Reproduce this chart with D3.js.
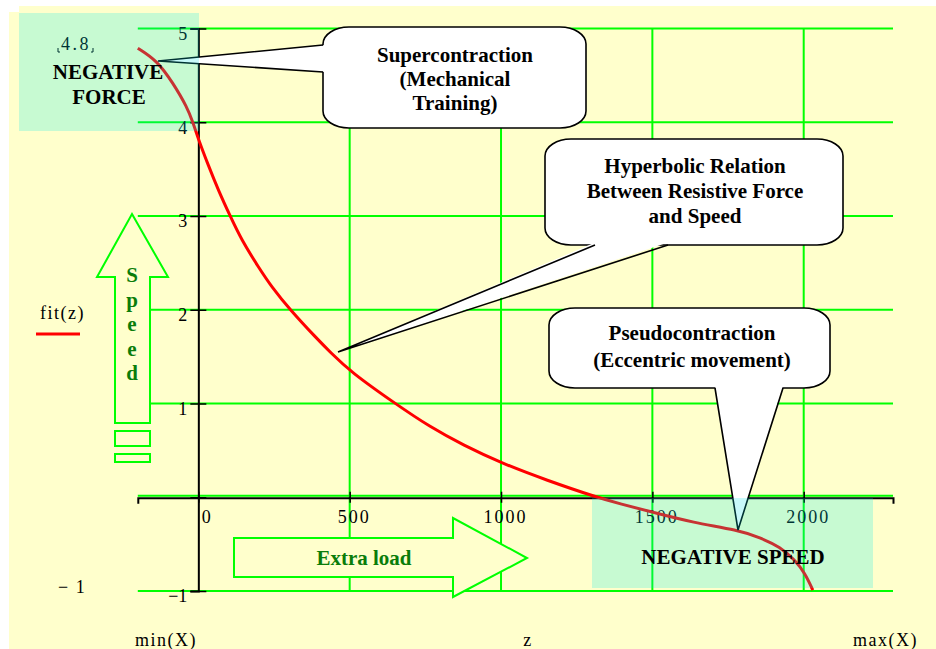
<!DOCTYPE html>
<html>
<head>
<meta charset="utf-8">
<script src="https://cdn.jsdelivr.net/npm/d3@7"></script>
<style>
  body { margin: 0; background: #fff; }
  svg text { font-family: "Liberation Serif", "Times New Roman", serif; }
</style>
</head>
<body>
<svg id="chart" width="936" height="649"></svg>
<script>
// data
var zValues   = [-200, -137, -84, -37, -18, 0, 33, 66, 105, 143, 198, 242, 303, 391, 435, 503, 650, 765, 876, 1000, 1151, 1316, 1393, 1502, 1634, 1783, 1856, 1922, 1971, 2004, 2030];
var fitValues = [4.79, 4.66, 4.42, 4.16, 4.0, 3.82, 3.54, 3.276, 3.0, 2.743, 2.458, 2.244, 2.0, 1.694, 1.55, 1.337, 1.0, 0.75, 0.555, 0.366, 0.181, 0, -0.07, -0.16, -0.27, -0.35, -0.43, -0.53, -0.67, -0.81, -0.99];
var xTicks = [0, 500, 1000, 1500, 2000];
var yTicks = [-1, 0, 1, 2, 3, 4, 5];
var xGrid = [500, 1000, 1500, 2000];

var svg = d3.select("#chart");
var yellow = "#ffffcc", lime = "#00ff00", darkGreen = "#0a7d0a";

var x = d3.scaleLinear().domain([-200, 2295]).range([137.8, 893]);
var y = d3.scaleLinear().domain([-1, 5]).range([591, 28.5]);

// background
svg.append("rect").attr("x", 19).attr("y", 6).attr("width", 917).attr("height", 643).attr("fill", yellow);
svg.append("rect").attr("x", 9).attr("y", 12).attr("width", 927).attr("height", 637).attr("fill", yellow);

// grid
svg.selectAll(".hgrid").data(yTicks).enter().append("line")
    .attr("x1", x(-200)).attr("x2", x(2295))
    .attr("y1", function(d) { return y(d) - (d === 0 ? 1.5 : 0); })
    .attr("y2", function(d) { return y(d) - (d === 0 ? 1.5 : 0); })
    .style("stroke", lime).style("stroke-width", 2);
svg.selectAll(".vgrid").data(xGrid).enter().append("line")
    .attr("x1", function(d) { return x(d); }).attr("x2", function(d) { return x(d); })
    .attr("y1", y(-1)).attr("y2", y(5))
    .style("stroke", lime).style("stroke-width", 2);

// axes
var yAxis = svg.append("g").attr("transform", "translate(" + x(0) + ",0)")
    .call(d3.axisLeft(y).tickValues(yTicks).tickSizeOuter(0).tickSize(8)
      .tickFormat(function(d) { return d === 0 ? "" : d3.format("d")(d); }));
yAxis.selectAll(".tick line").attr("x1", 8).attr("x2", -8).style("stroke", "#000").style("stroke-width", 1.5);
yAxis.select(".domain").style("stroke", "#000").style("stroke-width", 2);
yAxis.selectAll(".tick text").attr("x", -11).attr("dy", "0.6em")
    .style("font-size", "18px").style("fill", "#000")
    .style("font-family", "'Liberation Serif', serif");

var xAxis = svg.append("g").attr("transform", "translate(0," + (y(0) + 0.5) + ")")
    .call(d3.axisBottom(x).tickValues(xTicks).tickSizeOuter(0).tickSize(6).tickFormat(d3.format("d")));
xAxis.selectAll(".tick line").attr("y1", -6).attr("y2", 5).style("stroke", "#000").style("stroke-width", 1.5);
xAxis.select(".domain").style("stroke", "#000").style("stroke-width", 2);
xAxis.selectAll(".tick text")
    .attr("y", 25).attr("dy", 0)
    .attr("x", function(d) { return d === 0 ? 3 : 4; })
    .attr("text-anchor", function(d) { return d === 0 ? "start" : "middle"; })
    .style("font-size", "18px").style("letter-spacing", "2px").style("fill", "#000")
    .style("font-family", "'Liberation Serif', serif");

// curve
var line = d3.line()
    .x(function(d, i) { return x(zValues[i]); })
    .y(function(d) { return y(d); })
    .curve(d3.curveBasis);
svg.append("path").datum(fitValues)
    .attr("d", line)
    .style("fill", "none").style("stroke", "#ff0000").style("stroke-width", 3);

// callouts
function roundRect(x0, y0, x1, y1, rx, ry) {
  return "M" + (x0 + rx) + "," + y0 + "H" + (x1 - rx) +
    "A" + rx + "," + ry + " 0 0 1 " + x1 + "," + (y0 + ry) + "V" + (y1 - ry) +
    "A" + rx + "," + ry + " 0 0 1 " + (x1 - rx) + "," + y1 + "H" + (x0 + rx) +
    "A" + rx + "," + ry + " 0 0 1 " + x0 + "," + (y1 - ry) + "V" + (y0 + ry) +
    "A" + rx + "," + ry + " 0 0 1 " + (x0 + rx) + "," + y0 + "Z";
}
function bubble(b) {
  var g = svg.append("g");
  g.append("path").attr("d", roundRect(b.x0, b.y0, b.x1, b.y1, 26, 17))
      .style("fill", "#fff").style("stroke", "#000").style("stroke-width", 1.6);
  var a = b.a, c = b.c, t = b.tip, dx = b.side === "left" ? 2.5 : 0, dy = b.side === "bottom" ? -2.5 : 0;
  g.append("path")
      .attr("d", "M" + (a[0] + dx) + "," + (a[1] + dy) + "L" + t[0] + "," + t[1] + "L" + (c[0] + dx) + "," + (c[1] + dy) + "Z")
      .style("fill", "#fff").style("stroke", "none");
  g.append("path")
      .attr("d", "M" + a[0] + "," + a[1] + "L" + t[0] + "," + t[1] + "L" + c[0] + "," + c[1])
      .style("fill", "none").style("stroke", "#000").style("stroke-width", 1.6);
  b.lines.forEach(function(s, i) {
    g.append("text").attr("x", b.tx).attr("y", b.ty + i * b.lh)
        .attr("text-anchor", "middle")
        .style("font-size", "21px").style("font-weight", "bold").style("fill", "#000")
        .text(s);
  });
}
bubble({x0: 323, y0: 27, x1: 586, y1: 128, side: "left", a: [323, 45], c: [323, 72], tip: [158, 61],
        lines: ["Supercontraction", "(Mechanical", "Training)"], tx: 455, ty: 62, lh: 24});
bubble({x0: 545, y0: 139, x1: 843, y1: 245, side: "bottom", a: [595, 245], c: [668, 245], tip: [338, 352],
        lines: ["Hyperbolic Relation", "Between Resistive Force", "and Speed"], tx: 695, ty: 173, lh: 25});
bubble({x0: 549, y0: 308, x1: 830, y1: 388, side: "bottom", a: [715, 388], c: [783, 388], tip: [738, 530],
        lines: ["Pseudocontraction", "(Eccentric movement)"], tx: 692, ty: 340, lh: 27});

// 4.8 placeholder label
svg.append("text").attr("x", 61).attr("y", 50)
    .style("font-size", "18px").style("letter-spacing", "2.5px").style("fill", "#000").text("4.8");
svg.append("path").attr("d", "M58,48V52H60M93,48V52H91")
    .style("fill", "none").style("stroke", "#000").style("stroke-width", 1);

// speed arrow
svg.append("path")
    .attr("d", "M132,214L168,277H150V423H115V277H97Z")
    .style("fill", yellow).style("stroke", lime).style("stroke-width", 2);
svg.append("rect").attr("x", 115).attr("y", 431).attr("width", 35).attr("height", 15)
    .style("fill", yellow).style("stroke", lime).style("stroke-width", 2);
svg.append("rect").attr("x", 115).attr("y", 454).attr("width", 35).attr("height", 8)
    .style("fill", yellow).style("stroke", lime).style("stroke-width", 2);
"Speed".split("").forEach(function(ch, i) {
  svg.append("text").attr("x", 132).attr("y", 282 + i * 24.5).attr("text-anchor", "middle")
      .style("font-size", "21px").style("font-weight", "bold").style("fill", darkGreen).text(ch);
});

// extra load arrow
svg.append("path")
    .attr("d", "M234,538H453V518L527,558L453,597V577H234Z")
    .style("fill", yellow).style("stroke", lime).style("stroke-width", 2);
svg.append("text").attr("x", 364).attr("y", 565).attr("text-anchor", "middle")
    .style("font-size", "21px").style("font-weight", "bold").style("fill", darkGreen).text("Extra load");

// translucent highlight boxes
svg.append("rect").attr("x", 19).attr("y", 13).attr("width", 180).attr("height", 118)
    .style("fill", "rgb(0,230,230)").style("fill-opacity", 0.22);
svg.append("rect").attr("x", 592).attr("y", 498).attr("width", 281).attr("height", 90)
    .style("fill", "rgb(0,230,230)").style("fill-opacity", 0.22);

function bold(tx, ty, s) {
  svg.append("text").attr("x", tx).attr("y", ty).attr("text-anchor", "middle")
      .style("font-size", "21px").style("font-weight", "bold").style("fill", "#000").text(s);
}
bold(108, 79, "NEGATIVE");
bold(109, 104, "FORCE");
bold(733, 564, "NEGATIVE SPEED");

// legend and range labels
function plain(tx, ty, s, anchor) {
  svg.append("text").attr("x", tx).attr("y", ty).attr("text-anchor", anchor || "start")
      .style("font-size", "18px").style("letter-spacing", "1.5px").style("fill", "#000").text(s);
}
plain(40, 319, "fit(z)");
svg.append("line").attr("x1", 36).attr("x2", 80).attr("y1", 334).attr("y2", 334)
    .style("stroke", "#ff0000").style("stroke-width", 3);
plain(58, 593, "\u2212 1");
plain(135, 646, "min(X)");
plain(528, 646, "z", "middle");
plain(853, 646, "max(X)");
</script>
</body>
</html>
